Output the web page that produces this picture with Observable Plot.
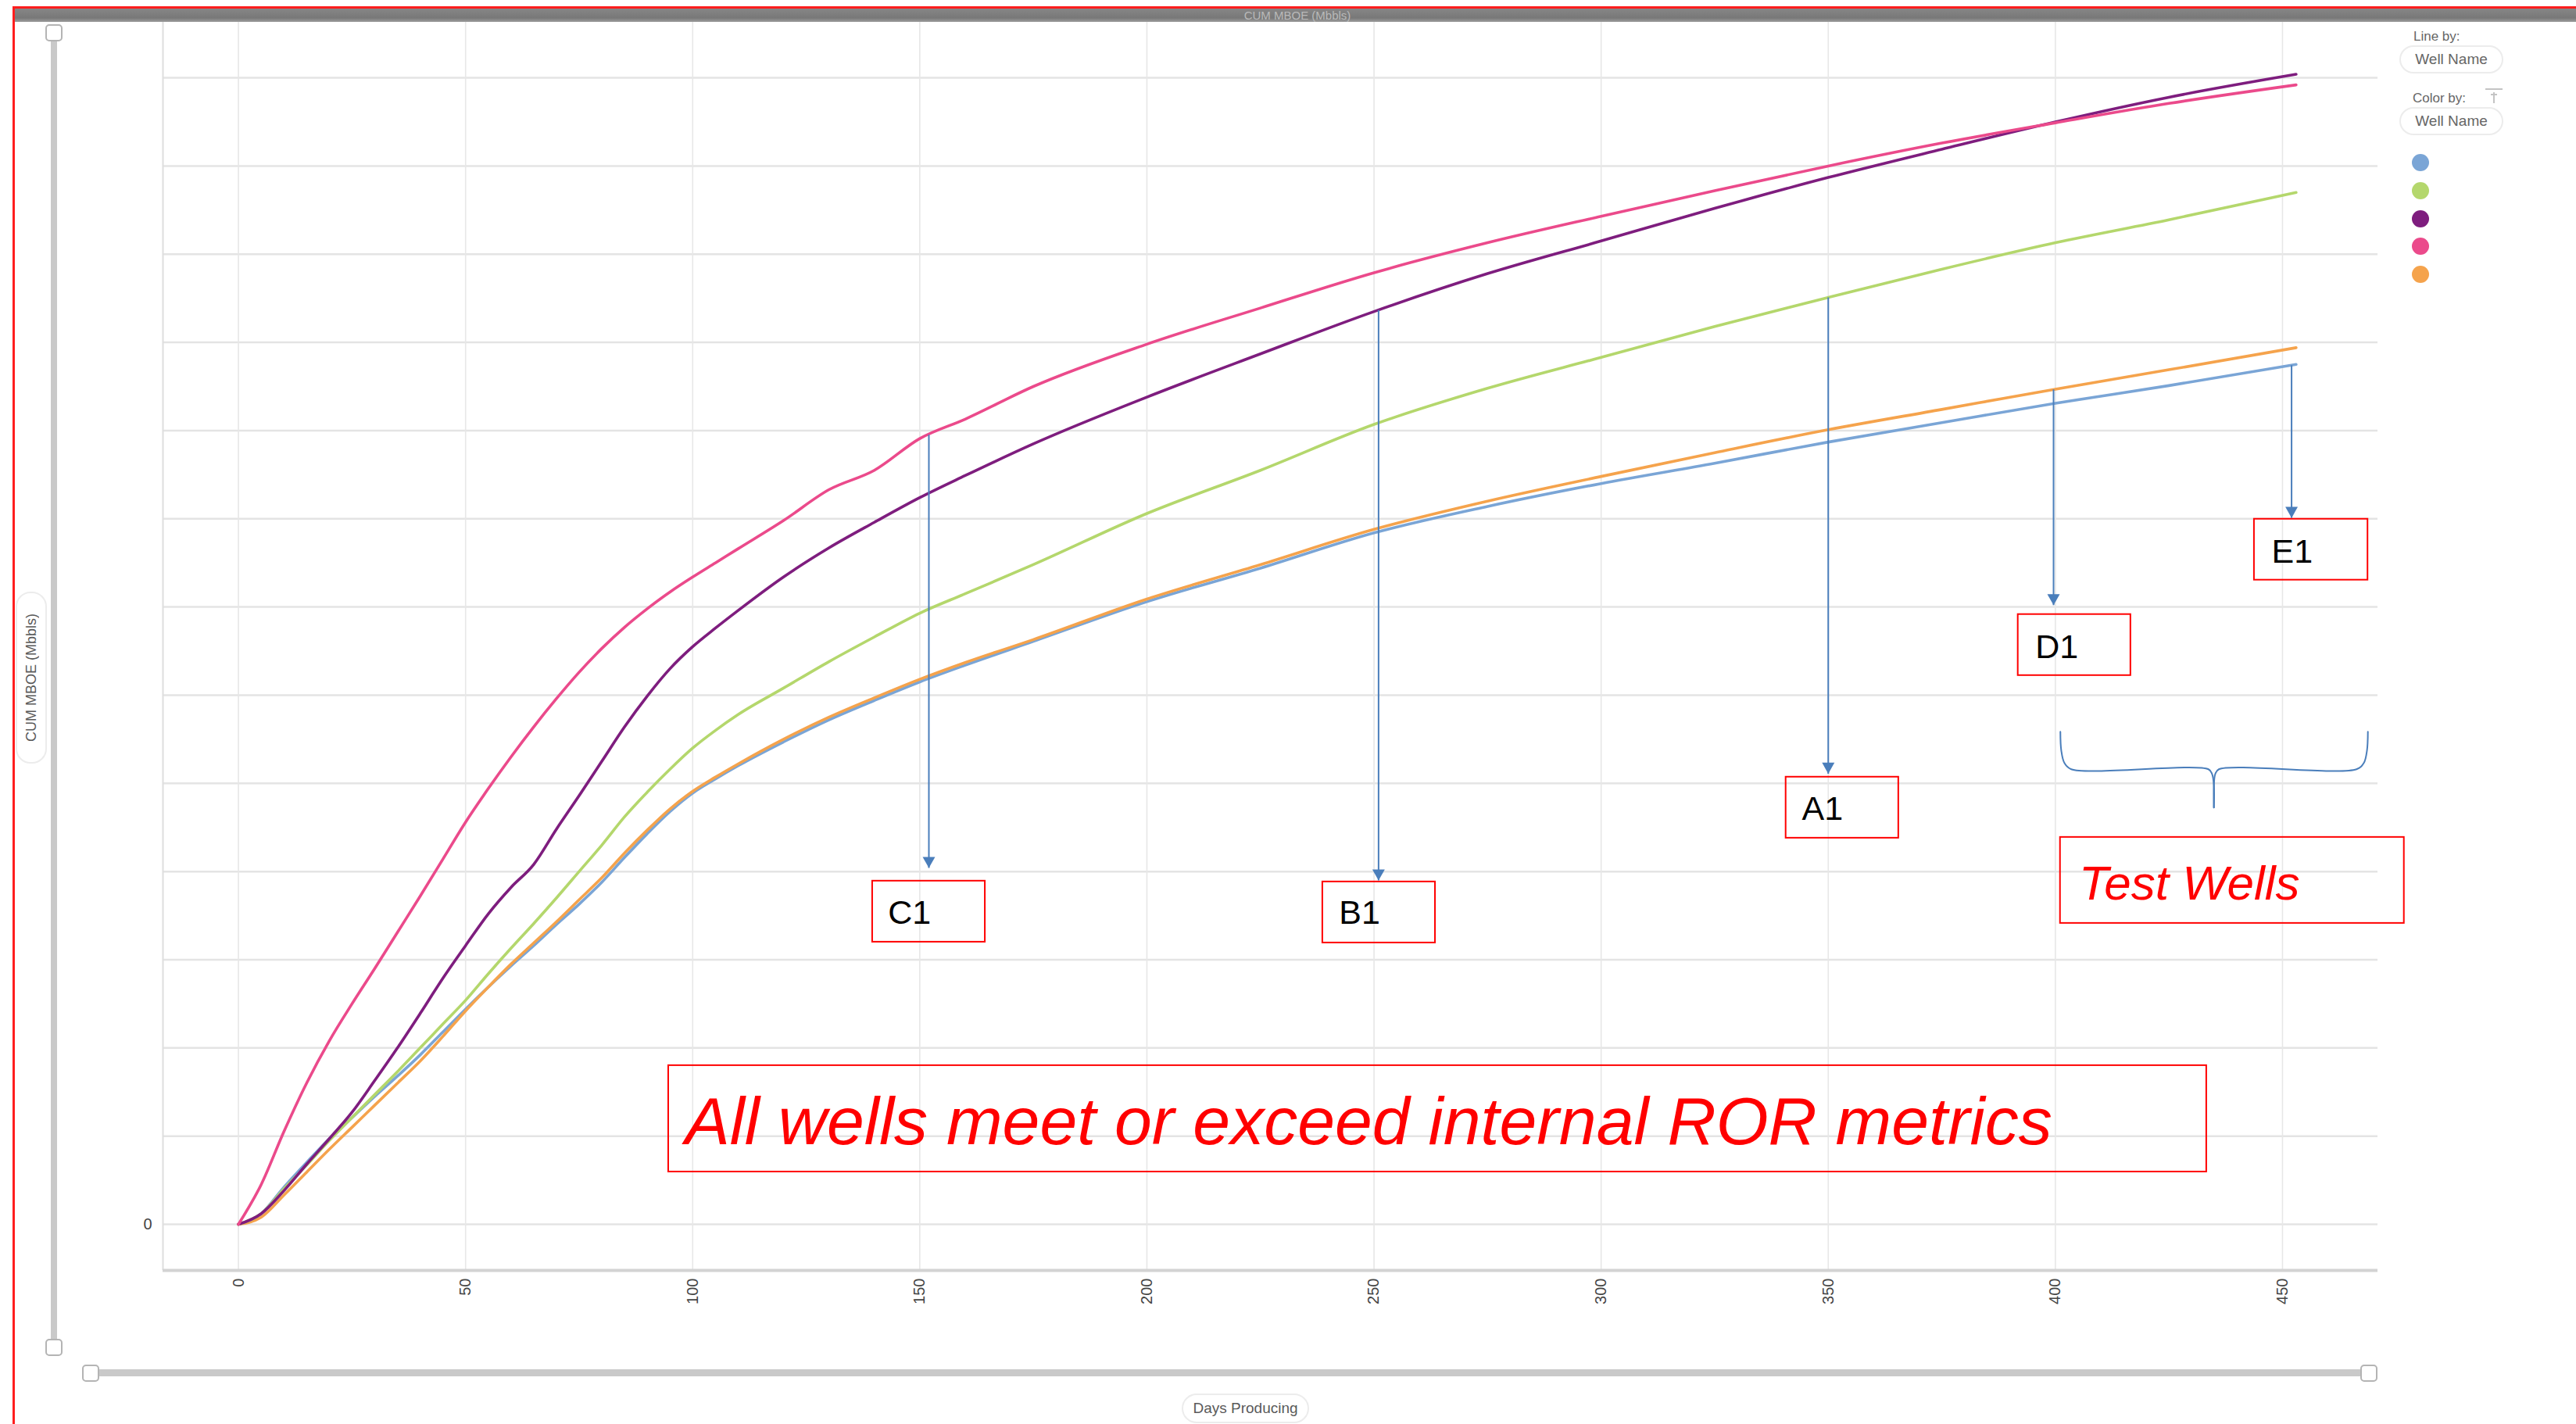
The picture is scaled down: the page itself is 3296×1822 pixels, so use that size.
<!DOCTYPE html>
<html>
<head>
<meta charset="utf-8">
<script src="https://cdn.jsdelivr.net/npm/d3@7"></script>
<script src="https://cdn.jsdelivr.net/npm/@observablehq/plot@0.6"></script>
<style>
html,body{margin:0;padding:0;background:#fff;}
#root{position:relative;width:3296px;height:1822px;overflow:hidden;font-family:"Liberation Sans",Arial,sans-serif;background:#fff;}
#chart{position:absolute;left:0;top:0;}
.abs{position:absolute;box-sizing:border-box;}
.handle{position:absolute;box-sizing:border-box;width:22px;height:22px;border:2px solid #b4b4b4;border-radius:5px;background:#fff;}
.pill{position:absolute;box-sizing:border-box;border:2px solid #ececec;border-radius:19px;color:#5a5a5a;display:flex;align-items:center;justify-content:center;}
.lg{position:absolute;color:#666;font-size:17px;line-height:17px;white-space:nowrap;}
.dot{position:absolute;width:22px;height:22px;border-radius:11px;}
</style>
</head>
<body>
<div id="root">
  <div id="chart"></div>
  <div class="abs" style="left:19px;top:11px;right:0;height:17px;background:linear-gradient(#868686,#787878 70%,#9c9c9c);"></div>
  <div class="abs" id="title" style="left:1530px;top:11px;width:260px;height:17px;text-align:center;font-size:15px;line-height:17px;color:#b9b9b9;"></div>
  <div class="abs" style="left:16px;top:8px;right:0;bottom:0;border-top:3px solid #ff1e1e;border-left:3px solid #ff1e1e;pointer-events:none;"></div>

  <div class="abs" style="left:65px;top:42px;width:8px;height:1682px;background:#c9c9c9;border-radius:4px;"></div>
  <div class="handle" style="left:58px;top:31px;"></div>
  <div class="handle" style="left:58px;top:1713px;"></div>

  <div class="abs" style="left:116px;top:1752px;width:2915px;height:9px;background:#c9c9c9;border-radius:4px;"></div>
  <div class="handle" style="left:105px;top:1746px;"></div>
  <div class="handle" style="left:3020px;top:1746px;"></div>

  <div class="pill" id="ylab" style="left:20px;top:757px;width:40px;height:220px;font-size:18px;"><span id="ylabtext" style="writing-mode:vertical-rl;transform:rotate(180deg);white-space:nowrap;"></span></div>
  <div class="pill" id="xlab" style="left:1512px;top:1783px;width:163px;height:38px;font-size:19px;"></div>

  <div class="lg" id="lineBy" style="left:3088px;top:38px;"></div>
  <div class="pill" id="pill1" style="left:3070px;top:58px;width:133px;height:36px;font-size:19px;color:#666;"></div>
  <div class="lg" id="colorBy" style="left:3087px;top:117px;"></div>
  <svg class="abs" style="left:3178px;top:111px;" width="26" height="24"><line x1="2" y1="3" x2="24" y2="3" stroke="#c4c4c4" stroke-width="2"/><line x1="13" y1="7" x2="13" y2="21" stroke="#c4c4c4" stroke-width="2"/><line x1="9" y1="10" x2="17" y2="10" stroke="#c4c4c4" stroke-width="2"/></svg>
  <div class="pill" id="pill2" style="left:3070px;top:137px;width:133px;height:36px;font-size:19px;color:#666;"></div>
  <div id="legendDots"></div>
</div>
<script>
// ---------- data ----------
const days = [0,5,10,15,20,25,30,35,40,45,50,55,60,65,70,75,80,85,90,95,100,105,110,120,130,140,150,160,175,200,225,250,275,300,325,350,375,400,425,453];
// cumulative production (in y-gridline units) per well
const wellE1 = [0,0.12,0.42,0.70,0.97,1.21,1.45,1.68,1.92,2.18,2.44,2.69,2.93,3.16,3.40,3.63,3.88,4.16,4.43,4.68,4.89,5.05,5.20,5.47,5.72,5.94,6.15,6.34,6.61,7.06,7.44,7.84,8.14,8.40,8.63,8.87,9.09,9.31,9.51,9.75];
const wellA1 = [0,0.12,0.40,0.67,0.95,1.21,1.47,1.73,2.00,2.27,2.54,2.84,3.13,3.41,3.70,4.00,4.30,4.62,4.90,5.16,5.40,5.60,5.78,6.08,6.38,6.66,6.93,7.15,7.48,8.06,8.55,9.07,9.48,9.83,10.18,10.51,10.83,11.13,11.39,11.70];
const wellB1 = [0,0.12,0.38,0.68,0.97,1.27,1.63,2.00,2.39,2.79,3.16,3.52,3.82,4.08,4.48,4.86,5.25,5.64,5.99,6.30,6.55,6.76,6.96,7.34,7.67,7.96,8.24,8.49,8.85,9.38,9.87,10.35,10.78,11.15,11.52,11.87,12.19,12.50,12.78,13.04];
const wellC1 = [0,0.45,1.05,1.60,2.08,2.50,2.90,3.31,3.72,4.14,4.56,4.94,5.30,5.64,5.96,6.26,6.53,6.77,6.98,7.17,7.34,7.50,7.66,7.98,8.33,8.55,8.91,9.13,9.50,9.98,10.39,10.79,11.13,11.43,11.72,12.00,12.26,12.49,12.71,12.92];
const wellD1 = [0,0.08,0.33,0.59,0.85,1.10,1.35,1.60,1.85,2.13,2.42,2.69,2.95,3.19,3.43,3.68,3.93,4.21,4.47,4.71,4.91,5.07,5.22,5.50,5.75,5.97,6.18,6.37,6.63,7.09,7.48,7.88,8.20,8.48,8.75,9.01,9.24,9.47,9.69,9.94];
const wellNames = ["E1","A1","B1","C1","D1"];          // legend order
const wellColors = ["#7aa5d6","#b4d76c","#7e1d7e","#eb4a8b","#f5a34c"];
const drawOrder = ["E1","D1","A1","B1","C1"];
const xTicks = [0,50,100,150,200,250,300,350,400,450];
const yGrid = [0,1,2,3,4,5,6,7,8,9,10,11,12,13];
const yTickLabels = ["0"];
const titleText = "CUM MBOE (Mbbls)";
const yLabel = "CUM MBOE (Mbbls)";
const xLabel = "Days Producing";
const legendLine = "Line by:";
const legendColor = "Color by:";
const legendField = "Well Name";

// annotations (callout boxes, in data units)
const calloutLabels = ["C1","B1","A1","D1","E1"];
const calloutDays   = [152, 251, 350, 399.6, 452];
const calloutTips   = [4.04, 3.90, 5.11, 7.02, 8.01];
const boxX1 = [139.6, 238.7, 340.7, 391.8, 443.8];
const boxX2 = [164.4, 263.5, 365.5, 416.6, 468.8];
const boxY1 = [3.892, 3.883, 5.071, 6.915, 7.996];
const boxY2 = [3.200, 3.191, 4.379, 6.223, 7.305];
const labelX = [143.0, 242.3, 344.2, 395.6, 447.6];
const labelY = [3.404, 3.404, 4.583, 6.418, 7.500];
const noteMain = "All wells meet or exceed internal ROR metrics";
const noteTest = "Test Wells";
const braceLeft  = [[401.1,5.585],[401.3,5.372],[402.0,5.230],[403.5,5.160],[433.7,5.160],[434.5,5.106],[434.9,4.973],[434.9,4.725]];
const braceRight = [[468.8,5.585],[468.6,5.372],[467.9,5.230],[466.3,5.160],[436.0,5.160],[435.2,5.106],[434.9,4.973],[434.9,4.725]];

// ---------- build ----------
const series = {E1: wellE1, A1: wellA1, B1: wellB1, C1: wellC1, D1: wellD1};
const lineData = drawOrder.flatMap(w => days.map((d, i) => ({well: w, day: d, value: series[w][i]})));
function valueAt(vals, day) {
  const i = d3.bisectRight(days, day);
  if (i <= 0) return vals[0];
  if (i >= days.length) return vals[vals.length - 1];
  const t = (day - days[i - 1]) / (days[i] - days[i - 1]);
  return vals[i - 1] + t * (vals[i] - vals[i - 1]);
}
const callouts = calloutLabels.map((lab, i) => ({
  label: lab, day: calloutDays[i], top: valueAt(series[lab], calloutDays[i]), tip: calloutTips[i],
  x1: boxX1[i], x2: boxX2[i], y1: boxY1[i], y2: boxY2[i], tx: labelX[i], ty: labelY[i]
}));
const braceData = [
  ...braceLeft.map(p => ({side: "L", x: p[0], y: p[1]})),
  ...braceRight.map(p => ({side: "R", x: p[0], y: p[1]}))
];
const noteBoxes = [
  {x1: 94.7, x2: 433.3, y1: 1.800, y2: 0.594},
  {x1: 401.1, x2: 476.8, y1: 4.388, y2: 3.413}
];
const noteTexts = [
  {x: 98.3, y: 0.904, text: noteMain, size: 86},
  {x: 405.2, y: 3.679, text: noteTest, size: 62}
];
const downTri = {
  draw(ctx, size) {
    const s = Math.sqrt(size);
    const h = s * 1.32, w = s * 1.5;
    ctx.moveTo(0, 0); ctx.lineTo(-w / 2, -h); ctx.lineTo(w / 2, -h); ctx.closePath();
  }
};
const arrowBlue = "#4a7ebb";

const chart = Plot.plot({
  width: 3296, height: 1822,
  marginLeft: 208, marginRight: 254, marginTop: 28, marginBottom: 197,
  style: {fontFamily: "'Liberation Sans', Arial, sans-serif", background: "transparent", overflow: "visible"},
  x: {domain: [-16.62, 471.0]},
  y: {domain: [-0.523, 13.63]},
  color: {domain: wellNames, range: wellColors},
  marks: [
    Plot.gridY({ticks: yGrid, stroke: "#e4e4e4", strokeOpacity: 1, strokeWidth: 2.5}),
    Plot.gridX({ticks: xTicks, stroke: "#e7e7e7", strokeOpacity: 1, strokeWidth: 1.6}),
    Plot.ruleX([-16.62], {stroke: "#dedede", strokeWidth: 2}),
    Plot.ruleY([-0.523], {stroke: "#d3d3d3", strokeWidth: 4}),
    Plot.axisX({ticks: xTicks, tickRotate: -90, tickSize: 0, tickPadding: 10, fontSize: 20, fill: "#444", label: null}),
    Plot.axisY({ticks: [0], tickFormat: (d, i) => yTickLabels[i], tickSize: 0, tickPadding: 14, fontSize: 20, fill: "#444", label: null}),
    Plot.line(lineData, {x: "day", y: "value", z: "well", stroke: "well", strokeWidth: 3.6, curve: "monotone-x"}),
    Plot.rect(callouts, {x1: "x1", x2: "x2", y1: "y1", y2: "y2", fill: "none", stroke: "#ff0000", strokeWidth: 2}),
    Plot.text(callouts, {x: "tx", y: "ty", text: "label", textAnchor: "start", lineAnchor: "bottom", fontSize: 43, fill: "#000"}),
    Plot.link(callouts, {x1: "day", x2: "day", y1: "top", y2: "tip", stroke: arrowBlue, strokeWidth: 2}),
    Plot.dot(callouts, {x: "day", y: "tip", symbol: downTri, r: 6, fill: arrowBlue, stroke: "none"}),
    Plot.line(braceData, {x: "x", y: "y", z: "side", stroke: arrowBlue, strokeWidth: 2, curve: "catmull-rom"}),
    Plot.rect(noteBoxes, {x1: "x1", x2: "x2", y1: "y1", y2: "y2", fill: "none", stroke: "#ff0000", strokeWidth: 2}),
    Plot.text(noteTexts, {x: "x", y: "y", text: "text", fontSize: d => d.size, textAnchor: "start", lineAnchor: "bottom", fill: "#ff0000", fontStyle: "italic"})
  ]
});
document.getElementById("chart").appendChild(chart);

// ---------- chrome / legend ----------
document.getElementById("title").textContent = titleText;
document.getElementById("ylabtext").textContent = yLabel;
document.getElementById("xlab").textContent = xLabel;
document.getElementById("lineBy").textContent = legendLine;
document.getElementById("colorBy").textContent = legendColor;
document.getElementById("pill1").textContent = legendField;
document.getElementById("pill2").textContent = legendField;
const dots = document.getElementById("legendDots");
wellColors.forEach((c, i) => {
  const el = document.createElement("div");
  el.className = "dot";
  el.style.left = "3086px";
  el.style.top = (197 + i * 35.8) + "px";
  el.style.background = c;
  dots.appendChild(el);
});
</script>
</body>
</html>
